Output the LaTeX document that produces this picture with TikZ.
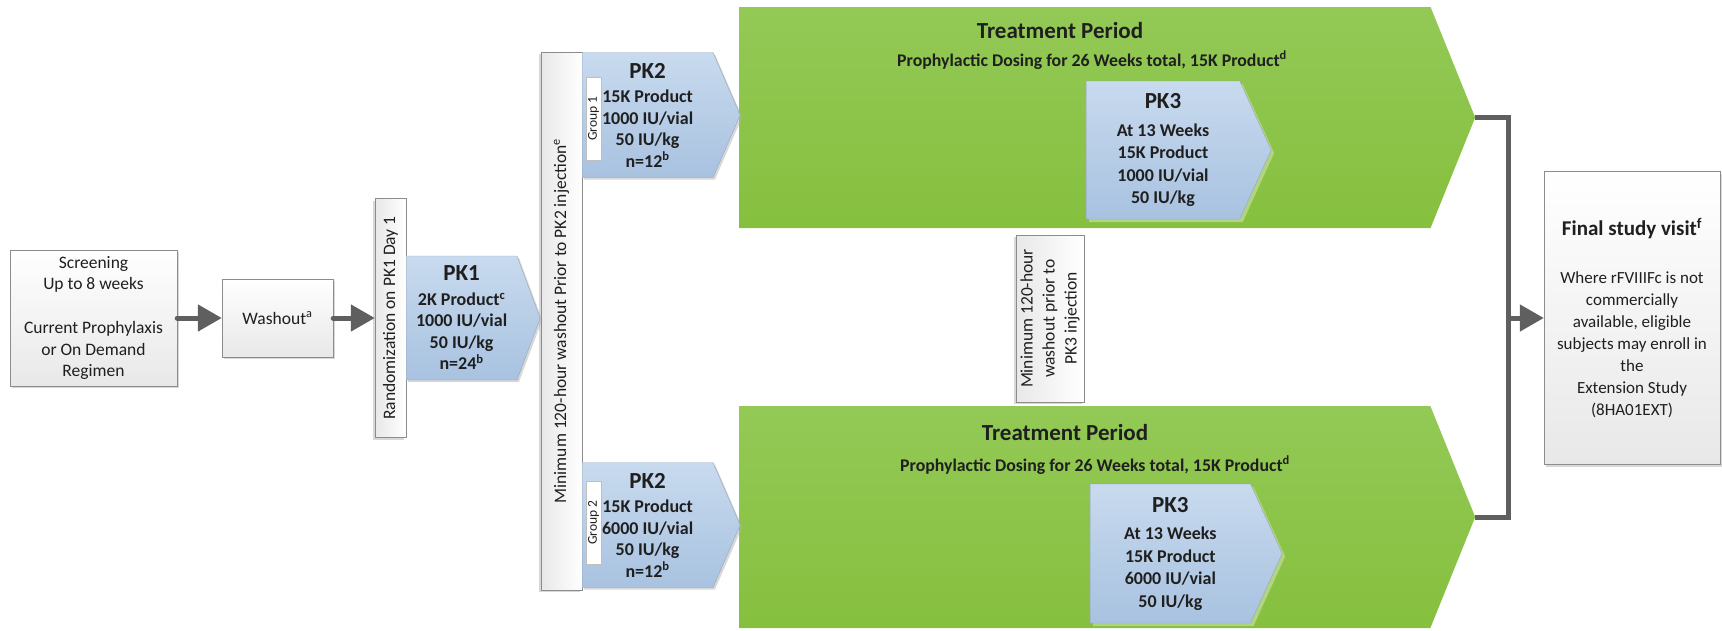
\documentclass[tikz,border=0pt]{standalone}
\usepackage{fontspec}
\setmainfont{Carlito}
\usepackage{tikz}
\usetikzlibrary{
  arrows.meta,
  shadows,
  shapes.symbols
}
\definecolor{pktop}{RGB}{200,218,238}
\definecolor{pkbot}{RGB}{168,194,224}
\definecolor{pkedge}{RGB}{150,165,185}
\definecolor{grtop}{RGB}{147,201,86}
\definecolor{grbot}{RGB}{134,192,62}
\definecolor{grshadow}{RGB}{176,212,128}
\definecolor{linkgrey}{RGB}{95,95,95}
\newcommand{\pkhead}[1]{{\fontsize{23}{26}\selectfont #1}}

\begin{document}
\begin{tikzpicture}[
      x=1pt, y=-1pt,
      >={Triangle[length=24pt,width=26pt]},
      every node/.style={text=black!88},
      greybox/.style={draw=black!45, top color=white, bottom color=black!9, drop shadow={shadow xshift=2pt, shadow yshift=-2pt, fill=black!30}, align=center, inner sep=0pt, font=\fontsize{17.5}{21.7}\selectfont},
      rotbox/.style={draw=black!45, left color=black!9, right color=white, rotate=90, drop shadow={shadow xshift=-2pt, shadow yshift=-2pt, fill=black!30}, align=center, inner sep=0pt, font=\fontsize{17.5}{22}\selectfont},
      pkshape/.style={signal, signal to=east, draw=pkedge, top color=pktop, bottom color=pkbot, align=center, inner sep=0pt, font=\fontsize{18}{21.5}\selectfont\bfseries},
      pkarrow/.style={pkshape, drop shadow={shadow xshift=2pt, shadow yshift=-2pt, fill=black!30}},
      pklate/.style={pkshape, drop shadow={shadow xshift=3pt, shadow yshift=-3pt, fill=grshadow, opacity=1}, font=\fontsize{18}{22.5}\selectfont\bfseries},
      grouptag/.style={draw=black!25, fill=white, rotate=90, minimum width=83pt, minimum height=15pt, inner sep=0pt, font=\fontsize{13.5}{16}\selectfont},
      period/.style={signal, signal to=east, top color=grtop, bottom color=grbot, minimum width=736pt, signal pointer angle=136, inner sep=0pt},
      ptitle/.style={font=\fontsize{23}{26}\selectfont\bfseries},
      psub/.style={font=\fontsize{17.8}{20}\selectfont\bfseries},
      link/.style={line width=5pt, linkgrey}
  ]
      \useasboundingbox (0,0) rectangle (1722,630);

      % Fase de tratamento
      \node[period, minimum height=221pt, anchor=west] (trtop) at (739,117.5) {};
      \node[period, minimum height=222pt, anchor=west] (trbot) at (739,517) {};
      \node[ptitle] (ttop) at (1060,31) {Treatment Period};
      \node[psub] (stop) at (1092,60) {Prophylactic Dosing for 26 Weeks total, 15K Product\textsuperscript{d}};
      \node[ptitle] (tbot) at (1065,433) {Treatment Period};
      \node[psub] (sbot) at (1095,465) {Prophylactic Dosing for 26 Weeks total, 15K Product\textsuperscript{d}};
      \node[pklate, minimum width=185pt, minimum height=138pt, signal pointer angle=131, anchor=west] (pk3a) at (1086,150) {\pkhead{PK3}\\[5pt]At 13 Weeks\\15K Product\\1000 IU/vial\\50 IU/kg};
      \node[pklate, minimum width=192pt, minimum height=139pt, signal pointer angle=131, anchor=west] (pk3b) at (1090,553.5) {\pkhead{PK3}\\[5pt]At 13 Weeks\\15K Product\\6000 IU/vial\\50 IU/kg};

      % Triagem e washout
      \node[greybox, minimum width=167pt, minimum height=136pt] (screen) at (93.5,318) {Screening\\Up to 8 weeks\\[21.7pt]Current Prophylaxis\\or On Demand\\Regimen};
      \node[greybox, minimum width=111pt, minimum height=78pt] (wash) at (277.5,318) {Washout\textsuperscript{a}};
      \node[rotbox, minimum width=239pt, minimum height=31pt] (rand) at (390.5,318) {Randomization on PK1 Day 1};

      % PK1 e PK2
      \node[pkarrow, minimum width=134pt, minimum height=124pt, signal pointer angle=139, anchor=west] (pk1) at (406,318) {\pkhead{PK1}\\[3pt]2K Product\textsuperscript{c}\\1000 IU/vial\\50 IU/kg\\n=24\textsuperscript{b}};
      \node[rotbox, minimum width=538pt, minimum height=41pt] (wout) at (561.5,321) {Minimum 120-hour washout Prior to PK2 injection\textsuperscript{e}};
      \node[pkarrow, minimum width=158pt, minimum height=125pt, signal pointer angle=133, anchor=west] (pk2a) at (582,115) {\pkhead{PK2}\\[3pt]15K Product\\1000 IU/vial\\50 IU/kg\\n=12\textsuperscript{b}};
      \node[pkarrow, minimum width=158pt, minimum height=125pt, signal pointer angle=133, anchor=west] (pk2b) at (582,525) {\pkhead{PK2}\\[3pt]15K Product\\6000 IU/vial\\50 IU/kg\\n=12\textsuperscript{b}};
      \node[grouptag] (grp1) at (593.5,118.5) {Group 1};
      \node[grouptag] (grp2) at (593.5,522.5) {Group 2};

      % Washout antes do PK3 e visita final
      \node[rotbox, minimum width=167pt, minimum height=68pt] (wpk3) at (1050,318.5) {Minimum 120-hour\\washout prior to\\PK3 injection};
      \node[greybox, minimum width=176pt, minimum height=293pt, font=\fontsize{17}{22}\selectfont] (final) at (1632,318) {{\fontsize{21}{24}\selectfont\bfseries Final study visit\textsuperscript{f}}\\[26pt]Where rFVIIIFc is not\\commercially\\available, eligible\\subjects may enroll in\\the\\Extension Study\\(8HA01EXT)};

      % Ligacoes
      \coordinate (join) at (1508,318);
      \draw[link, line cap=round, ->] (screen) -- (wash);
      \draw[link, line cap=round, ->] (wash) -- (rand);
      \draw[link] (trtop.east) -| (join) |- (trbot.east);
      \draw[link, ->] (join) -- (final);
  \end{tikzpicture}
\end{document}
